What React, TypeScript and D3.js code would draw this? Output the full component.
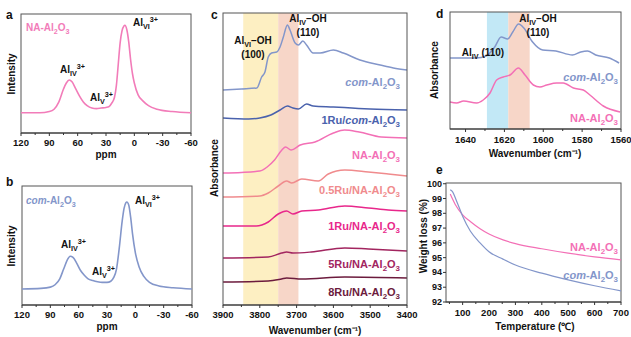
import React from 'react';
import * as d3 from 'd3';

// ---- panel a / b : 27Al NMR (ppm, intensity) ----
const nmrNA: [number, number][] = [
  [120, 0.17], [100, 0.17], [90, 0.18], [85, 0.2], [80, 0.26], [75, 0.37], [72, 0.42], [69, 0.445],
  [66, 0.43], [62, 0.37], [58, 0.31], [54, 0.26], [50, 0.23], [45, 0.21], [40, 0.205], [35, 0.21],
  [30, 0.215], [27, 0.22], [24, 0.25], [21, 0.3], [19, 0.4], [17, 0.58], [15, 0.76], [13, 0.86],
  [11, 0.9], [10, 0.905], [8, 0.87], [6, 0.77], [4, 0.62], [2, 0.5], [0, 0.42], [-4, 0.32],
  [-9, 0.27], [-15, 0.23], [-24, 0.2], [-40, 0.18], [-60, 0.17],
];
const nmrCom: [number, number][] = [
  [120, 0.135], [100, 0.14], [90, 0.15], [85, 0.17], [80, 0.22], [76, 0.3], [72, 0.38], [69, 0.41],
  [66, 0.4], [62, 0.35], [58, 0.29], [54, 0.25], [50, 0.22], [45, 0.205], [40, 0.195], [35, 0.19],
  [30, 0.19], [26, 0.2], [23, 0.23], [20, 0.3], [17, 0.48], [14, 0.7], [12, 0.81], [10, 0.86],
  [9, 0.865], [7, 0.84], [5, 0.74], [3, 0.6], [0, 0.44], [-4, 0.32], [-9, 0.24], [-15, 0.19],
  [-25, 0.16], [-40, 0.145], [-60, 0.135],
];
const ppmTicks = [120, 90, 60, 30, 0, -30, -60];
const ppmMinor = [105, 75, 45, 15, -15, -45];

// ---- panel c : DRIFTS OH region (wavenumber, stacked absorbance) ----
const irCom: [number, number][] = [
  [3900, 2.15], [3850, 2.16], [3808, 2.17], [3795, 2.28], [3786, 2.33], [3777, 2.48], [3768, 2.52],
  [3754, 2.53], [3745, 2.58], [3736, 2.68], [3725, 2.8], [3718, 2.75], [3704, 2.62], [3695, 2.6],
  [3683, 2.64], [3673, 2.6], [3655, 2.52], [3636, 2.52], [3600, 2.55], [3573, 2.52], [3528, 2.45],
  [3473, 2.4], [3437, 2.37], [3400, 2.35],
];
const ir1RuCom: [number, number][] = [
  [3900, 1.87], [3830, 1.86], [3800, 1.87], [3770, 1.9], [3745, 1.95], [3725, 1.99], [3710, 1.97],
  [3695, 1.96], [3673, 2.01], [3655, 1.99], [3600, 1.98], [3550, 1.97], [3500, 1.96], [3400, 1.95],
];
const irNA: [number, number][] = [
  [3900, 1.32], [3850, 1.325], [3800, 1.34], [3780, 1.38], [3760, 1.45], [3740, 1.55], [3730, 1.58],
  [3715, 1.55], [3690, 1.6], [3650, 1.63], [3600, 1.72], [3570, 1.75], [3530, 1.73], [3470, 1.68],
  [3400, 1.67],
];
const ir05Ru: [number, number][] = [
  [3900, 1.08], [3800, 1.09], [3777, 1.12], [3750, 1.19], [3727, 1.24], [3713, 1.22], [3686, 1.26],
  [3641, 1.24], [3614, 1.31], [3569, 1.35], [3505, 1.33], [3451, 1.31], [3400, 1.29],
];
const ir1Ru: [number, number][] = [
  [3900, 0.79], [3810, 0.79], [3777, 0.83], [3750, 0.91], [3727, 0.94], [3710, 0.91], [3686, 0.94],
  [3641, 0.95], [3569, 0.99], [3505, 0.97], [3451, 0.95], [3400, 0.94],
];
const ir5Ru: [number, number][] = [
  [3900, 0.47], [3777, 0.48], [3741, 0.52], [3727, 0.53], [3710, 0.52], [3660, 0.53], [3569, 0.57],
  [3505, 0.56], [3400, 0.54],
];
const ir8Ru: [number, number][] = [
  [3900, 0.23], [3777, 0.24], [3741, 0.26], [3727, 0.27], [3686, 0.26], [3569, 0.28], [3400, 0.27],
];
const ohTicks = [3900, 3800, 3700, 3600, 3500, 3400];
const ohMinor = [3850, 3750, 3650, 3550, 3450];
const ohBands = [[3845, 3750], [3750, 3695]];

// ---- panel d : 1650-1560 region ----
const lowCom: [number, number][] = [
  [1648, 0.71], [1641, 0.71], [1634.5, 0.71], [1629.4, 0.73], [1625, 0.82], [1621.7, 0.92],
  [1618.3, 0.9], [1615.7, 0.97], [1612.7, 1.05], [1610, 1.01], [1605.5, 0.87], [1600.3, 0.79],
  [1593.5, 0.78], [1585, 0.74], [1580.7, 0.77], [1577.3, 0.78], [1573, 0.74], [1566, 0.71], [1561, 0.66],
];
const lowNA: [number, number][] = [
  [1648, 0.27], [1644.6, 0.26], [1641, 0.28], [1634.3, 0.26], [1630.9, 0.29], [1627.4, 0.36],
  [1624, 0.49], [1620.6, 0.52], [1617.1, 0.54], [1612.8, 0.61], [1609.4, 0.54], [1605.1, 0.44],
  [1601.7, 0.42], [1598.2, 0.44], [1593.1, 0.46], [1589.7, 0.46], [1584.5, 0.41], [1579.4, 0.39],
  [1576, 0.34], [1569.1, 0.23], [1560.5, 0.17],
];
const lowTicks = [1640, 1620, 1600, 1580, 1560];
const lowMinor = [1630, 1610, 1590, 1570];
const lowBands = [[1629, 1618], [1618, 1607]];

// ---- panel e : TGA (temperature, weight %) ----
const tgaNA: [number, number][] = [
  [53, 99.3], [72, 98.6], [100, 97.9], [129, 97.45], [166, 96.96], [200, 96.6], [253, 96.2],
  [300, 95.95], [400, 95.6], [500, 95.3], [600, 95.05], [700, 94.85],
];
const tgaCom: [number, number][] = [
  [53, 99.6], [60, 99.5], [80, 98.7], [100, 97.8], [129, 96.8], [166, 96.0], [200, 95.4],
  [253, 94.9], [300, 94.5], [400, 93.95], [500, 93.5], [600, 93.1], [700, 92.75],
];
const tempTicks = [100, 200, 300, 400, 500, 600, 700];
const tempMinor = [50, 150, 250, 350, 450, 550, 650];
const wtTicks = [92, 93, 94, 95, 96, 97, 98, 99, 100];

const FONT = '"Liberation Sans", Arial, sans-serif';
const C = {
  pinkA: '#f27cb9',
  com: '#8396ca',
  ruCom: '#4a62ad',
  na: '#f370b6',
  ru05: '#f08b8d',
  ru1: '#e8278b',
  ru5: '#a2255f',
  ru8: '#6c1b3d',
  yellow: '#fdefc2',
  peach: '#f7d6c8',
  cyan: '#c2e8f6',
  axis: '#333',
};

type Part = { t: string; s?: 'sub' | 'sup'; i?: boolean };

const alumina = (pre: Part[]): Part[] => [...pre, { t: '-Al' }, { t: '2', s: 'sub' }, { t: 'O' }, { t: '3', s: 'sub' }];
const NA = alumina([{ t: 'NA' }]);
const COM = alumina([{ t: 'com', i: true }]);

function Rich({ parts, x, y, size = 10, fill = '#111', anchor = 'start', transform }: any) {
  let cur = 0;
  return (
    <text x={x} y={y} fontSize={size} fill={fill} textAnchor={anchor} fontWeight="bold" fontFamily={FONT} transform={transform}>
      {parts.map((p: Part, k: number) => {
        const target = p.s === 'sub' ? size * 0.25 : p.s === 'sup' ? -size * 0.4 : 0;
        const dy = target - cur;
        cur = target;
        return (
          <tspan key={k} dy={dy || undefined} fontSize={p.s ? size * 0.72 : undefined} fontStyle={p.i ? 'italic' : undefined}>
            {p.t}
          </tspan>
        );
      })}
    </text>
  );
}

function BottomAxis({ x, y0, ticks, minor, labelY, fmt = (v: number) => String(v) }: any) {
  const [r0, r1] = x.range();
  return (
    <g>
      <line x1={r0} x2={r1} y1={y0} y2={y0} stroke={C.axis} />
      {ticks.map((t: number) => (
        <g key={t}>
          <line x1={x(t)} x2={x(t)} y1={y0} y2={y0 + 3} stroke={C.axis} />
          <text x={x(t)} y={labelY} textAnchor="middle" fontSize={9.5} fontWeight="bold" fontFamily={FONT} fill="#111">{fmt(t)}</text>
        </g>
      ))}
      {minor.map((t: number) => (
        <line key={'m' + t} x1={x(t)} x2={x(t)} y1={y0} y2={y0 + 2} stroke={C.axis} />
      ))}
    </g>
  );
}

function Frame({ x0, x1, y0, y1 }: any) {
  return <rect x={x0} y={y0} width={x1 - x0} height={y1 - y0} fill="none" stroke="#555" strokeWidth={1} />;
}

function Title({ x, y, text, size = 10, rotate = false }: any) {
  return (
    <text x={x} y={y} fontSize={size} fontWeight="bold" fontFamily={FONT} fill="#111" textAnchor="middle"
      transform={rotate ? `rotate(-90, ${x}, ${y})` : undefined}>{text}</text>
  );
}

function Letter({ x, y, t }: any) {
  return <text x={x} y={y} fontSize={12} fontWeight="bold" fontFamily={FONT} fill="#111">{t}</text>;
}

const mkLine = (x: any, y: any) => d3.line<[number, number]>().x(d => x(d[0])).y(d => y(d[1])).curve(d3.curveMonotoneX);

const alIV: Part[] = [{ t: 'Al' }, { t: 'IV', s: 'sub' }, { t: '3+', s: 'sup' }];
const alV: Part[] = [{ t: 'Al' }, { t: 'V', s: 'sub' }, { t: '3+', s: 'sup' }];
const alVI: Part[] = [{ t: 'Al' }, { t: 'VI', s: 'sub' }, { t: '3+', s: 'sup' }];

export default function App() {
  // panel a
  const xa = d3.scaleLinear().domain([120, -60]).range([21, 191]);
  const ya = d3.scaleLinear().domain([0, 1]).range([133, 14]);
  // panel b
  const xb = d3.scaleLinear().domain([120, -60]).range([22, 192]);
  const yb = d3.scaleLinear().domain([0, 1]).range([305, 186]);
  // panel c
  const xc = d3.scaleLinear().domain([3900, 3400]).range([223, 407]);
  const yc = d3.scaleLinear().domain([0, 2.92]).range([305, 13]);
  // panel d
  const xd = d3.scaleLinear().domain([1648, 1560]).range([450, 621]);
  const yd = d3.scaleLinear().domain([0, 1.17]).range([129, 12]);
  // panel e
  const xe = d3.scaleLinear().domain([37, 700]).range([446, 621]);
  const ye = d3.scaleLinear().domain([92, 100.05]).range([302, 183]);

  const la = mkLine(xa, ya), lb = mkLine(xb, yb), lc = mkLine(xc, yc), ld = mkLine(xd, yd), le = mkLine(xe, ye);

  const cSeries = [
    { d: irCom, c: C.com, lab: COM, ly: 86 },
    { d: ir1RuCom, c: C.ruCom, lab: [{ t: '1Ru/' }, ...COM], ly: 124 },
    { d: irNA, c: C.na, lab: NA, ly: 159 },
    { d: ir05Ru, c: C.ru05, lab: [{ t: '0.5Ru/' }, ...NA], ly: 194 },
    { d: ir1Ru, c: C.ru1, lab: [{ t: '1Ru/' }, ...NA], ly: 230 },
    { d: ir5Ru, c: C.ru5, lab: [{ t: '5Ru/' }, ...NA], ly: 268 },
    { d: ir8Ru, c: C.ru8, lab: [{ t: '8Ru/' }, ...NA], ly: 296 },
  ];

  return (
    <svg width={631} height={337} style={{ position: 'absolute', left: 0, top: 0, background: '#fff' }}>
      {/* ---------- a ---------- */}
      <Letter x={6} y={19} t="a" />
      <Frame x0={21} x1={191} y0={14} y1={133} />
      <path d={la(nmrNA) || ''} fill="none" stroke={C.pinkA} strokeWidth={1.6} />
      <BottomAxis x={xa} y0={133} ticks={ppmTicks} minor={ppmMinor} labelY={146} />
      <Title x={xa(30)} y={158} text="ppm" />
      <Title x={15} y={74} text="Intensity" rotate />
      <Rich parts={NA} x={26} y={31} fill={C.pinkA} />
      <Rich parts={alIV} x={60} y={73} />
      <Rich parts={alV} x={90} y={101} />
      <Rich parts={alVI} x={133} y={26} />

      {/* ---------- b ---------- */}
      <Letter x={6} y={186} t="b" />
      <Frame x0={22} x1={192} y0={186} y1={305} />
      <path d={lb(nmrCom) || ''} fill="none" stroke={C.com} strokeWidth={1.6} />
      <BottomAxis x={xb} y0={305} ticks={ppmTicks} minor={ppmMinor} labelY={318} />
      <Title x={xb(30)} y={330} text="ppm" />
      <Title x={15} y={246} text="Intensity" rotate />
      <Rich parts={COM} x={26} y={204} fill={C.com} />
      <Rich parts={alIV} x={61} y={248} />
      <Rich parts={alV} x={92} y={275} />
      <Rich parts={alVI} x={135} y={204} />

      {/* ---------- c ---------- */}
      <Letter x={211} y={19} t="c" />
      {ohBands.map(([a, b], k) => (
        <rect key={k} x={xc(a)} y={13} width={xc(b) - xc(a)} height={292} fill={k === 0 ? C.yellow : C.peach} />
      ))}
      {cSeries.map((s, k) => (
        <path key={k} d={lc(s.d) || ''} fill="none" stroke={s.c} strokeWidth={1.5} />
      ))}
      {cSeries.map((s, k) => (
        <Rich key={'l' + k} parts={s.lab} x={400} y={s.ly} anchor="end" size={11} fill={s.c} />
      ))}
      <Frame x0={223} x1={407} y0={13} y1={305} />
      <BottomAxis x={xc} y0={305} ticks={ohTicks} minor={ohMinor} labelY={318} />
      <Title x={315} y={334} text="Wavenumber (cm⁻¹)" />
      <Title x={218} y={168} text="Absorbance" rotate />
      <Rich parts={[{ t: 'Al' }, { t: 'VI', s: 'sub' }, { t: '–OH' }]} x={253} y={44} anchor="middle" />
      <Title x={253} y={58} text="(100)" />
      <Rich parts={[{ t: 'Al' }, { t: 'IV', s: 'sub' }, { t: '–OH' }]} x={308} y={22} anchor="middle" />
      <Title x={308} y={36} text="(110)" />

      {/* ---------- d ---------- */}
      <Letter x={436} y={18} t="d" />
      {lowBands.map(([a, b], k) => (
        <rect key={k} x={xd(a)} y={12} width={xd(b) - xd(a)} height={117} fill={k === 0 ? C.cyan : C.peach} />
      ))}
      <path d={ld(lowCom) || ''} fill="none" stroke={C.com} strokeWidth={1.5} />
      <path d={ld(lowNA) || ''} fill="none" stroke={C.na} strokeWidth={1.5} />
      <Frame x0={450} x1={621} y0={12} y1={129} />
      <BottomAxis x={xd} y0={129} ticks={lowTicks} minor={lowMinor} labelY={143} />
      <Title x={535} y={157} text="Wavenumber (cm⁻¹)" />
      <Title x={438} y={70} text="Absorbance" rotate />
      <Rich parts={[{ t: 'Al' }, { t: 'IV', s: 'sub' }, { t: '–OH' }]} x={538} y={22} anchor="middle" />
      <Title x={538} y={36} text="(110)" />
      <Rich parts={[{ t: 'Al' }, { t: 'IV', s: 'sub' }, { t: ' (110)' }]} x={483} y={56} anchor="middle" />
      <Rich parts={COM} x={618} y={81} anchor="end" size={11} fill={C.com} />
      <Rich parts={NA} x={618} y={122} anchor="end" size={11} fill={C.na} />

      {/* ---------- e ---------- */}
      <Letter x={436} y={174} t="e" />
      <Frame x0={446} x1={621} y0={183} y1={302} />
      <path d={le(tgaNA) || ''} fill="none" stroke={C.na} strokeWidth={1.2} />
      <path d={le(tgaCom) || ''} fill="none" stroke={C.com} strokeWidth={1.2} />
      <BottomAxis x={xe} y0={302} ticks={tempTicks} minor={tempMinor} labelY={316} />
      {wtTicks.map(t => (
        <g key={t}>
          <line x1={443} x2={446} y1={ye(t)} y2={ye(t)} stroke={C.axis} />
          <text x={442} y={ye(t) + 3} textAnchor="end" fontSize={9} fontWeight="bold" fontFamily={FONT} fill="#111">{t}</text>
        </g>
      ))}
      <Title x={535} y={330} text="Temperature (℃)" />
      <Title x={427} y={236} text="Weight loss (%)" rotate />
      <Rich parts={NA} x={618} y={251} anchor="end" size={11} fill={C.na} />
      <Rich parts={COM} x={618} y={279} anchor="end" size={11} fill={C.com} />
    </svg>
  );
}
